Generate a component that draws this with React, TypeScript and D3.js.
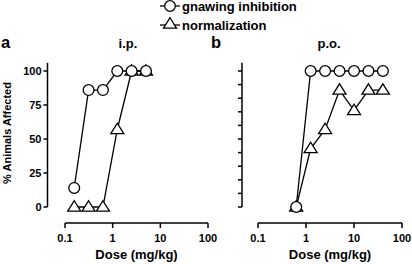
import React from "react";
import * as d3 from "d3";

const dosesA = [0.156, 0.3125, 0.625, 1.25, 2.5, 5];
const gnawingA = [14, 86, 86, 100, 100, 100];
const normalA = [0, 0, 0, 57, 100, 100];

const dosesB = [0.625, 1.25, 2.5, 5, 10, 20, 40];
const gnawingB = [0, 100, 100, 100, 100, 100, 100];
const normalB = [0, 43, 57, 86, 71, 86, 86];

const xTicks = [0.1, 1, 10, 100];
const yTicksA = [0, 25, 50, 75, 100];
const yTicksB = [0, 10, 20, 30, 40, 50, 60, 70, 80, 90, 100];

const FONT = "'Liberation Sans', Arial, sans-serif";

function tri(cx: number, cy: number, s = 6.5) {
  const h = s * 1.6;
  return `M${cx},${cy - h * 0.6}L${cx + s},${cy + h * 0.4}L${cx - s},${cy + h * 0.4}Z`;
}

function Panel({ x0, x1, yAxisX, doses, gn, nm, ticksY, labels, letter, letterX, title, titleX }: any) {
  const x = d3.scaleLog().domain([0.1, 100]).range([x0, x1]);
  const y = d3.scaleLinear().domain([0, 100]).range([207, 71]);
  const line = d3.line<number>().x((_, i) => x(doses[i])).y((v) => y(v));
  const sw = 1.3;
  return (
    <g>
      <text x={letterX} y={48} fontFamily={FONT} fontWeight="bold" fontSize={16.5}>{letter}</text>
      <text x={titleX} y={48} fontFamily={FONT} fontWeight="bold" fontSize={13} textAnchor="middle">{title}</text>
      {/* y axis */}
      <line x1={yAxisX} x2={yAxisX} y1={y(106)} y2={y(0)} stroke="#000" strokeWidth={1.5} />
      {ticksY.map((t: number) => (
        <g key={t}>
          <line x1={yAxisX - 4} x2={yAxisX} y1={y(t)} y2={y(t)} stroke="#000" strokeWidth={1.5} />
          {labels && (
            <text x={yAxisX - 6} y={y(t)} dy="0.35em" textAnchor="end" fontFamily={FONT} fontWeight="bold" fontSize={11}>{t}</text>
          )}
        </g>
      ))}
      {/* x axis */}
      <line x1={x0} x2={x1} y1={223} y2={223} stroke="#000" strokeWidth={1.5} />
      {xTicks.map((t) => (
        <g key={t}>
          <line x1={x(t)} x2={x(t)} y1={223} y2={228} stroke="#000" strokeWidth={1.5} />
          <text x={x(t)} y={241.5} textAnchor="middle" fontFamily={FONT} fontWeight="bold" fontSize={11}>{t}</text>
        </g>
      ))}
      <text x={(x0 + x1) / 2} y={259} textAnchor="middle" fontFamily={FONT} fontWeight="bold" fontSize={13}>Dose (mg/kg)</text>
      {/* lines */}
      <path d={line(nm) || ""} fill="none" stroke="#000" strokeWidth={sw} />
      <path d={line(gn) || ""} fill="none" stroke="#000" strokeWidth={sw} />
      {nm.map((v: number, i: number) => (
        <path key={"t" + i} d={tri(x(doses[i]), y(v))} fill="#fff" stroke="#000" strokeWidth={sw} />
      ))}
      {gn.map((v: number, i: number) => (
        <circle key={"c" + i} cx={x(doses[i])} cy={y(v)} r={5.4} fill="#fff" stroke="#000" strokeWidth={sw} />
      ))}
    </g>
  );
}

export default function App() {
  return (
    <svg width={412} height={264} style={{ display: "block", position: "absolute", left: 0, top: 0 }}>
      <rect width={412} height={264} fill="#fff" />
      {/* legend */}
      <line x1={160} x2={180} y1={6} y2={6} stroke="#000" strokeWidth={1.3} />
      <circle cx={170} cy={6} r={5.3} fill="#fff" stroke="#000" strokeWidth={1.3} />
      <text x={182} y={10.5} fontFamily={FONT} fontWeight="bold" fontSize={13}>gnawing inhibition</text>
      <line x1={160} x2={180} y1={25} y2={25} stroke="#000" strokeWidth={1.3} />
      <path d={tri(170, 24)} fill="#fff" stroke="#000" strokeWidth={1.3} />
      <text x={182} y={29.5} fontFamily={FONT} fontWeight="bold" fontSize={13}>normalization</text>
      <text transform="translate(11,133) rotate(-90)" textAnchor="middle" fontFamily={FONT} fontWeight="bold" fontSize={11}>% Animals Affected</text>
      <Panel x0={65} x1={208} yAxisX={47.5} doses={dosesA} gn={gnawingA} nm={normalA} ticksY={yTicksA} labels={true} letter="a" letterX={1} title="i.p." titleX={128} />
      <Panel x0={258} x1={402} yAxisX={242} doses={dosesB} gn={gnawingB} nm={normalB} ticksY={yTicksB} labels={false} letter="b" letterX={211} title="p.o." titleX={329} />
    </svg>
  );
}
